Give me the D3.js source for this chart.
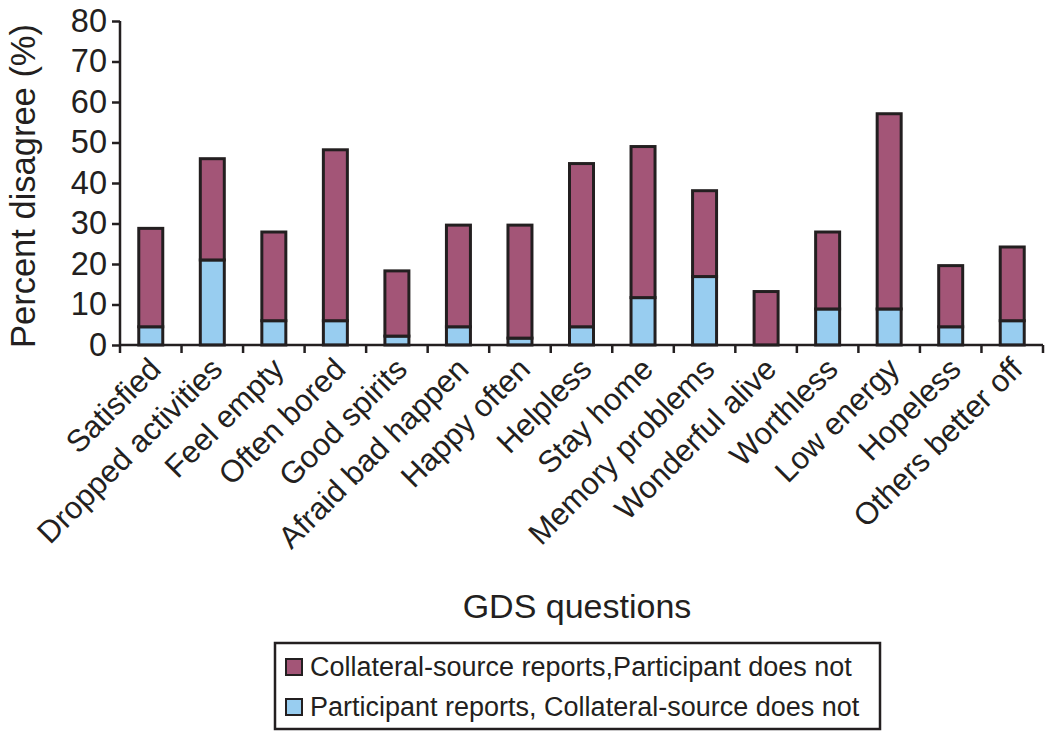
<!DOCTYPE html>
<html><head><meta charset="utf-8">
<script src="https://cdn.jsdelivr.net/npm/d3@7"></script>
<style>body{margin:0;background:#fff}text{font-family:"Liberation Sans",Arial,Helvetica,sans-serif;fill:#231f20}</style>
</head><body>
<svg id="c" width="1050" height="737"></svg>
<script>
const categories = ["Satisfied","Dropped activities","Feel empty","Often bored","Good spirits","Afraid bad happen","Happy often","Helpless","Stay home","Memory problems","Wonderful alive","Worthless","Low energy","Hopeless","Others better off"];
const participantReports = [4.5,21,6,6,2.2,4.5,1.7,4.5,11.7,16.9,0,8.9,8.9,4.5,6];
const totalDisagree = [28.8,46,27.9,48.2,18.3,29.6,29.6,44.8,49,38.1,13.2,27.9,57.1,19.6,24.2];
const collateralReports = totalDisagree.map((t,i)=>t-participantReports[i]);
const yTicks = [0,10,20,30,40,50,60,70,80];
const seriesNames = ["Collateral-source reports,Participant does not","Participant reports, Collateral-source does not"];
const colors = ["#a35577","#98cdf0"];

const svg = d3.select("#c");
const L=120, R=1043, T=21, B=345;
const x = d3.scaleBand().domain(categories).range([L,R]).padding(0);
const y = d3.scaleLinear().domain([0,80]).range([B,T]);
const bw = x.bandwidth()*0.39;
const ink="#231f20";

// bars
const g = svg.append("g");
categories.forEach((c,i)=>{
  const cx = x(c)+x.bandwidth()/2;
  if(participantReports[i]>0){
    g.append("rect").attr("x",cx-bw/2).attr("width",bw)
      .attr("y",y(participantReports[i])).attr("height",y(0)-y(participantReports[i]))
      .attr("fill",colors[1]).attr("stroke",ink).attr("stroke-width",3);
  }
  g.append("rect").attr("x",cx-bw/2).attr("width",bw)
    .attr("y",y(totalDisagree[i])).attr("height",y(participantReports[i])-y(totalDisagree[i]))
    .attr("fill",colors[0]).attr("stroke",ink).attr("stroke-width",3);
});

// y axis
const ya = svg.append("g").attr("transform",`translate(${L},0)`)
  .call(d3.axisLeft(y).tickValues(yTicks).tickSize(8).tickPadding(5));
ya.select(".domain").attr("stroke",ink).attr("stroke-width",2.5).attr("d",`M-0,${T}V${B}`);
ya.selectAll(".tick line").attr("stroke",ink).attr("stroke-width",2.5);
ya.selectAll(".tick text").attr("font-size",32.5).attr("fill",ink).attr("font-family","Liberation Sans, Arial, sans-serif");

// x axis with ticks at band boundaries
const xa = svg.append("g").attr("transform",`translate(0,${B})`);
xa.append("line").attr("x1",L).attr("x2",R).attr("stroke",ink).attr("stroke-width",2.5);
const bounds = categories.map(c=>x(c)).concat([R]);
xa.selectAll(".xt").data(bounds).join("line").attr("x1",d=>d).attr("x2",d=>d)
  .attr("y1",0).attr("y2",8).attr("stroke",ink).attr("stroke-width",2.5);
xa.selectAll(".xl").data(categories).join("text")
  .attr("transform",d=>`translate(${x(d)+x.bandwidth()/2+12},${26}) rotate(-45)`)
  .attr("text-anchor","end").attr("font-size",31).text(d=>d);

// titles
svg.append("text").attr("transform",`translate(35,${(T+B)/2+3}) rotate(-90)`)
  .attr("text-anchor","middle").attr("font-size",34.5).text("Percent disagree (%)");
svg.append("text").attr("x",577).attr("y",618).attr("text-anchor","middle")
  .attr("font-size",34).text("GDS questions");

// legend
const lg = svg.append("g");
lg.append("rect").attr("x",275).attr("y",643).attr("width",605).attr("height",86)
  .attr("fill","#fff").attr("stroke",ink).attr("stroke-width",2.5);
seriesNames.forEach((s,i)=>{
  lg.append("rect").attr("x",286).attr("y",659+i*40).attr("width",16).attr("height",16)
    .attr("fill",colors[i]).attr("stroke",ink).attr("stroke-width",2);
  lg.append("text").attr("x",310).attr("y",676+i*40).attr("font-size",27).text(s);
});
</script>
</body></html>
